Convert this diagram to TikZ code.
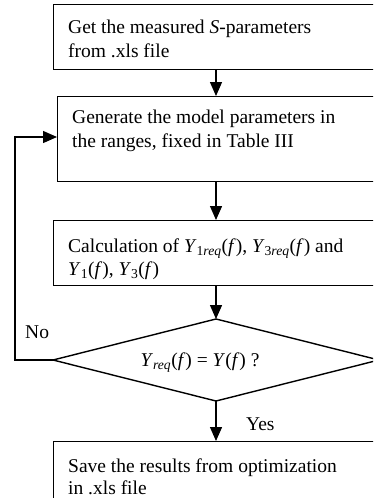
\documentclass[tikz,border=0pt]{standalone}
\usepackage{fontspec}
\setmainfont{Liberation Serif}
\usetikzlibrary{arrows.meta}
\begin{document}
\begin{tikzpicture}[x=1pt,y=-1pt,
  box/.style={draw, line width=1.4pt, rectangle, anchor=north west, inner sep=0pt, minimum width=360pt},
  txt/.style={anchor=base west, inner sep=0pt, font=\fontsize{19.5}{23}\selectfont},
  ctxt/.style={anchor=base, inner sep=0pt, font=\fontsize{19.5}{23}\selectfont},
  flow/.style={line width=1.4pt, -{Triangle[length=14pt,width=12pt]}},
  edge/.style={line width=1.4pt, line join=miter},
]
\useasboundingbox (0,0) rectangle (373,498);
\clip (0,0) rectangle (373,498);
\coordinate (ax) at (216,0);
% boxes
\node[box, minimum height=65pt] (b1) at (53,4) {};
\node[box, minimum height=85pt] (b2) at (57,96) {};
\node[box, minimum height=65pt] (b3) at (53,220) {};
\node[box, minimum height=80pt] (b4) at (53,441) {};
% diamond
\coordinate (dt) at (216,319);
\coordinate (dl) at (53,360);
\coordinate (db) at (216,401);
\coordinate (dr) at (379,360);
\draw[edge] (dt) -- (dr) -- (db) -- (dl) -- cycle;
% texts
\node[txt] (t1a) at (68,33) {Get the measured \textit{S}-parameters};
\node[txt] (t1b) at (68,57) {from .xls file};
\node[txt] (t2a) at (72,123) {Generate the model parameters in};
\node[txt] (t2b) at (72,147) {the ranges, fixed in Table III};
\node[txt] (t3a) at (68,252) {Calculation of \textit{Y}\textsubscript{1\textit{req}}(\textit{f}), \textit{Y}\textsubscript{3\textit{req}}(\textit{f}) and};
\node[txt] (t3b) at (68,275) {\textit{Y}\textsubscript{1}(\textit{f}), \textit{Y}\textsubscript{3}(\textit{f})};
\node[ctxt] (td) at (200,366) {\textit{Y}\textsubscript{\textit{req}}(\textit{f}) = \textit{Y}(\textit{f}) ?};
\node[txt] (t4a) at (68,472) {Save the results from optimization};
\node[txt] (t4b) at (68,494) {in .xls file};
\node[txt] (no) at (25,338) {No};
\node[txt] (yes) at (246,430) {Yes};
% connectors
\draw[flow] (b1.south -| ax) -- (b2.north -| ax);
\draw[flow] (b2.south -| ax) -- (b3.north -| ax);
\draw[flow] (b3.south -| ax) -- (dt);
\draw[flow] (db) -- (b4.north -| ax);
\coordinate (lp) at (15,137);
\draw[flow, line join=miter] (dl) -- (dl -| lp) -- (lp) -- (lp -| b2.west);
\end{tikzpicture}
\end{document}
